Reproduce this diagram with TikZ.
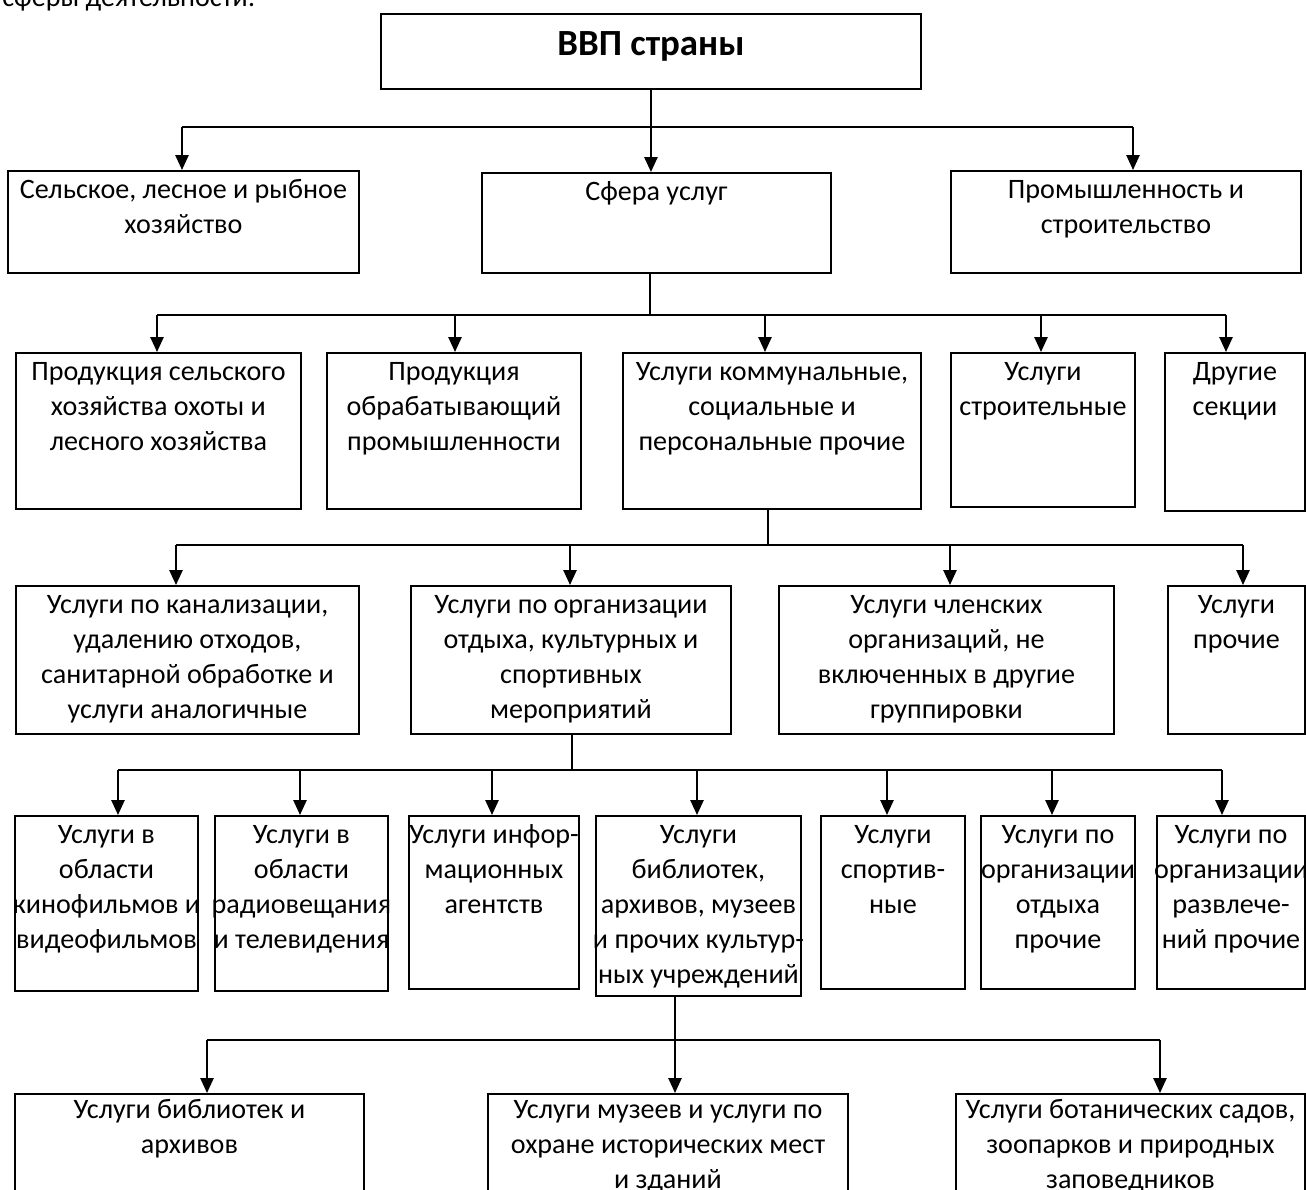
\documentclass[tikz,border=0pt]{standalone}
\usepackage{fontspec}
\setmainfont{Carlito}
\usetikzlibrary{arrows.meta}

% one pixel of the layout
\newlength{\px}\setlength{\px}{0.02cm}
% box text: [first baseline]{width}{height}{lines}
\newcommand{\cell}[4][28]{\parbox[t][#3\px][t]{#2\px}{\makebox[#2\px]{\begin{tabular}[t]{@{}c@{}}\rule{0pt}{#1\px}#4\end{tabular}}}}

\tikzset{
  block/.style={draw, line width=1.1pt, inner sep=0pt, anchor=north west},
  arr/.style={line width=1.1pt, -{Triangle[width=7.5pt,length=8.5pt]}},
  bus/.style={line width=0.6pt}
}

\begin{document}
\begin{tikzpicture}[x=0.02cm, y=-0.02cm, font=\fontsize{16}{19.9}\selectfont]
    \useasboundingbox (0,0) rectangle (1306,1190);

    % lead-in line, cut by the page edge
    \node[anchor=base west, inner sep=0pt] (lead) at (2,7) {сферы деятельности:};

    % Top
    \node[block] (gdp) at (380,13) {\cell[42]{540}{75}{\fontsize{21}{25}\selectfont\bfseries ВВП страны}};

    % Level 1
    \node[block] (agri) at (7,170) {\cell{351}{102}{Сельское, лесное и рыбное\\хозяйство}};
    \node[block] (serv) at (481,172) {\cell{349}{100}{Сфера услуг}};
    \node[block] (ind) at (950,170) {\cell{350}{102}{Промышленность и\\строительство}};

    % Level 2
    \node[block] (farm) at (15,352) {\cell{285}{156}{Продукция сельского\\хозяйства охоты и\\лесного хозяйства}};
    \node[block] (manuf) at (326,352) {\cell{254}{156}{Продукция\\обрабатывающий\\промышленности}};
    \node[block] (comm) at (622,352) {\cell{298}{156}{Услуги коммунальные,\\социальные и\\персональные прочие}};
    \node[block] (constr) at (950,352) {\cell{184}{154}{Услуги\\строительные}};
    \node[block] (other) at (1164,352) {\cell{140}{158}{Другие\\секции}};

    % Level 3
    \node[block] (sewer) at (15,585) {\cell{343}{148}{Услуги по канализации,\\удалению отходов,\\санитарной обработке и\\услуги аналогичные}};
    \node[block] (recr) at (410,585) {\cell{320}{148}{Услуги по организации\\отдыха, культурных и\\спортивных\\мероприятий}};
    \node[block] (memb) at (778,585) {\cell{335}{148}{Услуги членских\\организаций, не\\включенных в другие\\группировки}};
    \node[block] (misc) at (1167,585) {\cell{137}{148}{Услуги\\прочие}};

    % Level 4
    \node[block] (film) at (14,815) {\cell{183}{175}{Услуги в\\области\\кинофильмов и\\видеофильмов}};
    \node[block] (radio) at (214,815) {\cell{173}{175}{Услуги в\\области\\радиовещания\\и телевидения}};
    \node[block] (news) at (408,815) {\cell{170}{173}{Услуги инфор-\\мационных\\агентств}};
    \node[block] (cult) at (595,815) {\cell{205}{180}{Услуги\\библиотек,\\архивов, музеев\\и прочих культур-\\ных учреждений}};
    \node[block] (sport) at (820,815) {\cell{144}{173}{Услуги\\спортив-\\ные}};
    \node[block] (rest) at (980,815) {\cell{154}{173}{Услуги по\\организации\\отдыха\\прочие}};
    \node[block] (fun) at (1156,815) {\cell{148}{173}{Услуги по\\организации\\развлече-\\ний прочие}};

    % Level 5
    \node[block] (lib) at (14,1093) {\cell[22]{349}{140}{Услуги библиотек и\\архивов}};
    \node[block] (mus) at (487,1093) {\cell[22]{360}{140}{Услуги музеев и услуги по\\охране исторических мест\\и зданий}};
    \node[block] (zoo) at (955,1093) {\cell[22]{349}{140}{Услуги ботанических садов,\\зоопарков и природных\\заповедников}};

    % Connectors, level 1
    \draw[arr] (gdp.south) -- (gdp.south |- serv.north);
    \draw[bus] (182,127) -- (1133,127);
    \foreach \x/\n in {182/agri,1133/ind}
        \draw[arr] (\x,127) -- (\n.north -| \x,0);

    % Connectors, level 2
    \draw[bus] (serv.south -| 650,0) -- (650,315);
    \draw[bus] (157,315) -- (1226,315);
    \foreach \x/\n in {157/farm,455/manuf,765/comm,1041/constr,1226/other}
        \draw[arr] (\x,315) -- (\n.north -| \x,0);

    % Connectors, level 3
    \draw[bus] (comm.south -| 768,0) -- (768,545);
    \draw[bus] (176,545) -- (1243,545);
    \foreach \x/\n in {176/sewer,570/recr,950/memb,1243/misc}
        \draw[arr] (\x,545) -- (\n.north -| \x,0);

    % Connectors, level 4
    \draw[bus] (recr.south -| 572,0) -- (572,770);
    \draw[bus] (118,770) -- (1222,770);
    \foreach \x/\n in {118/film,300/radio,492/news,697/cult,887/sport,1052/rest,1222/fun}
        \draw[arr] (\x,770) -- (\n.north -| \x,0);

    % Connectors, level 5
    \draw[arr] (cult.south -| 675,0) -- (mus.north -| 675,0);
    \draw[bus] (207,1040) -- (1160,1040);
    \foreach \x/\n in {207/lib,1160/zoo}
        \draw[arr] (\x,1040) -- (\n.north -| \x,0);
\end{tikzpicture}
\end{document}
